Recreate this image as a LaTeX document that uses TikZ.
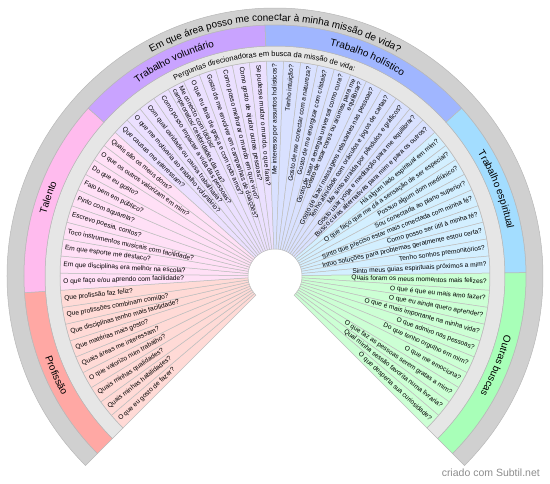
\documentclass[tikz,border=0pt]{standalone}
\usepackage{fontspec}
\setmainfont{Liberation Sans}
\usetikzlibrary{decorations.text,backgrounds}

\definecolor{profband}{HTML}{FFA8A4}
\definecolor{profq}{HTML}{FFDAD6}
\definecolor{talband}{HTML}{FFBBEE}
\definecolor{talq}{HTML}{FFE0F6}
\definecolor{volband}{HTML}{C9A3FF}
\definecolor{volq}{HTML}{EBE0FF}
\definecolor{holband}{HTML}{A0B6FF}
\definecolor{holq}{HTML}{D9E1FF}
\definecolor{espband}{HTML}{A3DDFF}
\definecolor{espq}{HTML}{D3EFFF}
\definecolor{outband}{HTML}{A8FFB8}
\definecolor{outq}{HTML}{CCFFD4}
\definecolor{ringlight}{HTML}{E6E6E6}
\definecolor{ringdark}{HTML}{D0D0D0}

\newcommand\slicewidth{4.5762712} % 270/59
\newcommand\qfont{\fontsize{6.6}{7}\selectfont}
\newcommand\titlefont{\fontsize{10}{12}\selectfont}
\newcommand\bandfont{\fontsize{10}{12}\selectfont}
\newcommand\subfont{\fontsize{7.5}{9}\selectfont}

% annular sector: from angle, to angle, inner radius, outer radius
\newcommand\sector[4]{(#1:#3) arc[start angle=#1, end angle=#2, radius=#3]
  -- (#2:#4) arc[start angle=#2, end angle=#1, radius=#4] -- cycle}

% one slice per question, numbered clockwise from the lower left
\newcommand\questions[3]{%
  \foreach \q [count=\i from #1] in {#3} {%
    \pgfmathsetmacro\ta{225-(\i-1)*\slicewidth}%
    \pgfmathsetmacro\tb{225-\i*\slicewidth}%
    \pgfmathsetmacro\tm{225-(\i-0.5)*\slicewidth}%
    \begin{scope}[on background layer]
      \draw[qslice, fill=#2] \sector{\ta}{\tb}{27}{215};
    \end{scope}
    \ifdim\tm pt>90pt
      \pgfmathsetmacro\rot{\tm-180}%
      \node[qtext, anchor=west, align=left, rotate=\rot] (q\i) at (\tm:212) {\q};
    \else
      \node[qtext, anchor=east, align=right, rotate=\tm] (q\i) at (\tm:212) {\q};
    \fi
  }}

\begin{document}
\begin{tikzpicture}[x=1pt, y=1pt,
  qslice/.style={draw=black!25, line width=0.5pt},
  ring/.style={draw=black!28, line width=0.5pt},
  qtext/.style={font=\qfont, inner sep=0pt, text=black},
  arclabel/.style={decorate, decoration={text along path, text align=center}},
]
\useasboundingbox (-275,-207) rectangle (275,276);

% outer rings
\draw[ring, fill=ringdark] \sector{225}{-45}{251}{268};
\draw[ring, fill=ringlight] \sector{225}{-45}{215}{230};
\foreach \ka/\kb/\col in {0/9/profband, 9/19/talband, 19/29/volband,
                          29/40/holband, 40/49/espband, 49/59/outband} {
  \pgfmathsetmacro\ta{225-\ka*\slicewidth}
  \pgfmathsetmacro\tb{225-\kb*\slicewidth}
  \draw[ring, fill=\col] \sector{\ta}{\tb}{230}{251};
}

% titles along the arcs
\path[arclabel, decoration={text={|\titlefont|Em que área posso me conectar à minha missão de vida?}}]
  (150:255) arc[start angle=150, end angle=30, radius=255];
\path[arclabel, decoration={text={|\subfont|Perguntas direcionadoras em busca da missão de vida:}}]
  (153:219.5) arc[start angle=153, end angle=33, radius=219.5];

\path[arclabel, decoration={text={|\bandfont|Profissão}}]
  (183.814:244) arc[start angle=183.814, end angle=225, radius=244];
\path[arclabel, decoration={text={|\bandfont|Talento}}]
  (183.814:237) arc[start angle=183.814, end angle=138.051, radius=237];
\path[arclabel, decoration={text={|\bandfont|Trabalho voluntário}}]
  (138.051:237) arc[start angle=138.051, end angle=92.288, radius=237];
\path[arclabel, decoration={text={|\bandfont|Trabalho holístico}}]
  (92.288:237) arc[start angle=92.288, end angle=41.949, radius=237];
\path[arclabel, decoration={text={|\bandfont|Trabalho espiritual}}]
  (41.949:237) arc[start angle=41.949, end angle=0.763, radius=237];
\path[arclabel, decoration={text={|\bandfont|Outras buscas}}]
  (0.763:237) arc[start angle=0.763, end angle=-45, radius=237];

% questions
\questions{1}{profq}{O que eu gosto de fazer?, Quais minhas habilidades?,
  Quais minhas qualidades?, O que valorizo num trabalho?, Quais áreas me interessam?,
  Que matérias mais gosto?, Que disciplinas tenho mais facilidade?,
  Que profissões combinam comigo?, Que profissão faz feliz?}
\questions{10}{talq}{O que faço e/ou aprendo com facilidade?,
  Em que disciplinas era melhor na escola?, Em que esporte me destaco?,
  Toco instrumentos musicais com facilidade?, {Escrevo poesia, contos?},
  Pinto com aquarela?, Falo bem em público?, Do que eu gosto?,
  O que os outros valorizam em mim?, Quais são os meus dons?}
\questions{20}{volq}{Que causas me interessam?, O que me motivaria ao trabalho voluntário?,
  Com qual caridade ou causa trabalharia?, Como posso impactar a vida das pessoas?,
  {Me conecto com ídolos/\\campeonatos/ celebridades da rua?},
  O que eu faria de graça e com todo amor?, Gosto de me envolver em campanhas de doações?,
  Como posso melhorar o mundo em que vivo?, Como gosto de ajudar outras pessoas?,
  {Se pudesse mudar o mundo, o que faria?}}
\questions{30}{holq}{Me interesso por assuntos holísticos?, Tenho intuição?,
  Gosto de me conectar com a natureza?, Gosto de me energizar com cristais?,
  Gosto de usar a energia universal como cura?,
  {Gosto de usar cores ou aromas para me\\equilibrar?},
  Gosto de fazer massagens relaxantes nas pessoas?,
  Tenho afinidade com oráculos e jogos de cartas?,
  Me sinto atraída por pêndulos e gráficos?,
  Gosto usar yoga e meditação para me equilibrar?,
  Busco curas alternativas para mim e para os outros?}
\questions{41}{espq}{Há algum lado espiritual em mim?,
  O que faço que me dá a sensação de ser especial?, Possuo algum dom mediúnico?,
  Sou conectada ao plano superior?, Sinto que preciso estar mais conectada com minha fé?,
  Como posso ser útil à minha fé?, Intuo soluções para problemas geralmente estou certa?,
  Tenho sonhos premonitórios?, Sinto meus guias espirituais próximos a mim?}
\questions{50}{outq}{Quais foram os meus momentos mais felizes?,
  O que é que eu mais amo fazer?, O que eu ainda quero aprender?,
  O que é mais importante na minha vida?, O que admiro nas pessoas?,
  Do que tenho orgulho em mim?, O que me emociona?,
  O que faz as pessoas serem gratas a mim?, Qual minha sessão favorita numa livraria?,
  O que desperta sua curiosidade?}

\node[anchor=base east, text=black!45, font=\fontsize{10.5}{12}\selectfont, inner sep=0pt]
  (credit) at (265,-200) {criado com Subtil.net};

\end{tikzpicture}
\end{document}
